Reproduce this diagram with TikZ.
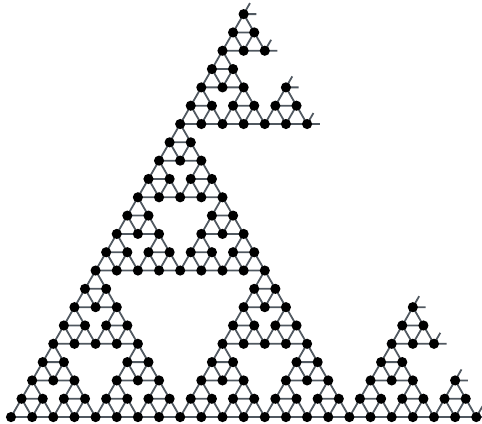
\documentclass[tikz,border=0pt]{standalone}
\usetikzlibrary{calc}
\definecolor{edgegray}{RGB}{80,88,96}
% \sgok=1 when the two numbers share no binary digit
\newcommand\sgtest[2]{%
 \pgfmathtruncatemacro\sgok{(mod(#1,2)*mod(#2,2)+mod(floor(#1/2),2)*mod(floor(#2/2),2)+mod(floor(#1/4),2)*mod(floor(#2/4),2)+mod(floor(#1/8),2)*mod(floor(#2/8),2)+mod(floor(#1/16),2)*mod(floor(#2/16),2))==0}}
\begin{document}
\begin{tikzpicture}[x=.5cm,y=.5cm,
 edge/.style={draw=edgegray,line width=1.2pt},
 vtx/.style={circle,fill=black,inner sep=0pt,minimum size=2.4mm}]
 \useasboundingbox (-.52,-.284) rectangle (22.27,19.72);
 % lattice points
 \foreach \i in {0,...,23}{
  \pgfmathtruncatemacro\jmax{23-\i}
  \foreach \j in {0,...,\jmax}
   \coordinate (v-\i-\j) at ({\i+\j/2},{.866*\j});
 }
 % small triangles, cut ones as stubs
 \foreach \a in {0,...,22}{
  \pgfmathtruncatemacro\bmax{22-\a}
  \foreach \b in {0,...,\bmax}{
   \sgtest{\a}{\b}
   \ifnum\sgok=1
    \pgfmathtruncatemacro\ap{\a+1}
    \pgfmathtruncatemacro\bp{\b+1}
    \ifnum\bmax=\b
     \draw[edge] (v-\a-\b) -- ($(v-\a-\b)!.6!(v-\ap-\b)$)
      (v-\a-\b) -- ($(v-\a-\b)!.6!(v-\a-\bp)$);
    \else
     \draw[edge] (v-\a-\b) -- (v-\ap-\b) -- (v-\a-\bp) -- cycle;
    \fi
   \fi
  }
 }
 % vertices
 \foreach \i in {0,...,22}{
  \pgfmathtruncatemacro\jmax{22-\i}
  \foreach \j in {0,...,\jmax}{
   \def\sgon{0}
   \sgtest{\i}{\j}\ifnum\sgok=1 \def\sgon{1}\fi
   \ifnum\i>0 \pgfmathtruncatemacro\im{\i-1}\sgtest{\im}{\j}\ifnum\sgok=1 \def\sgon{1}\fi\fi
   \ifnum\j>0 \pgfmathtruncatemacro\jm{\j-1}\sgtest{\i}{\jm}\ifnum\sgok=1 \def\sgon{1}\fi\fi
   \ifnum\sgon=1 \node[vtx] (n-\i-\j) at (v-\i-\j) {};\fi
  }
 }
\end{tikzpicture}
\end{document}
